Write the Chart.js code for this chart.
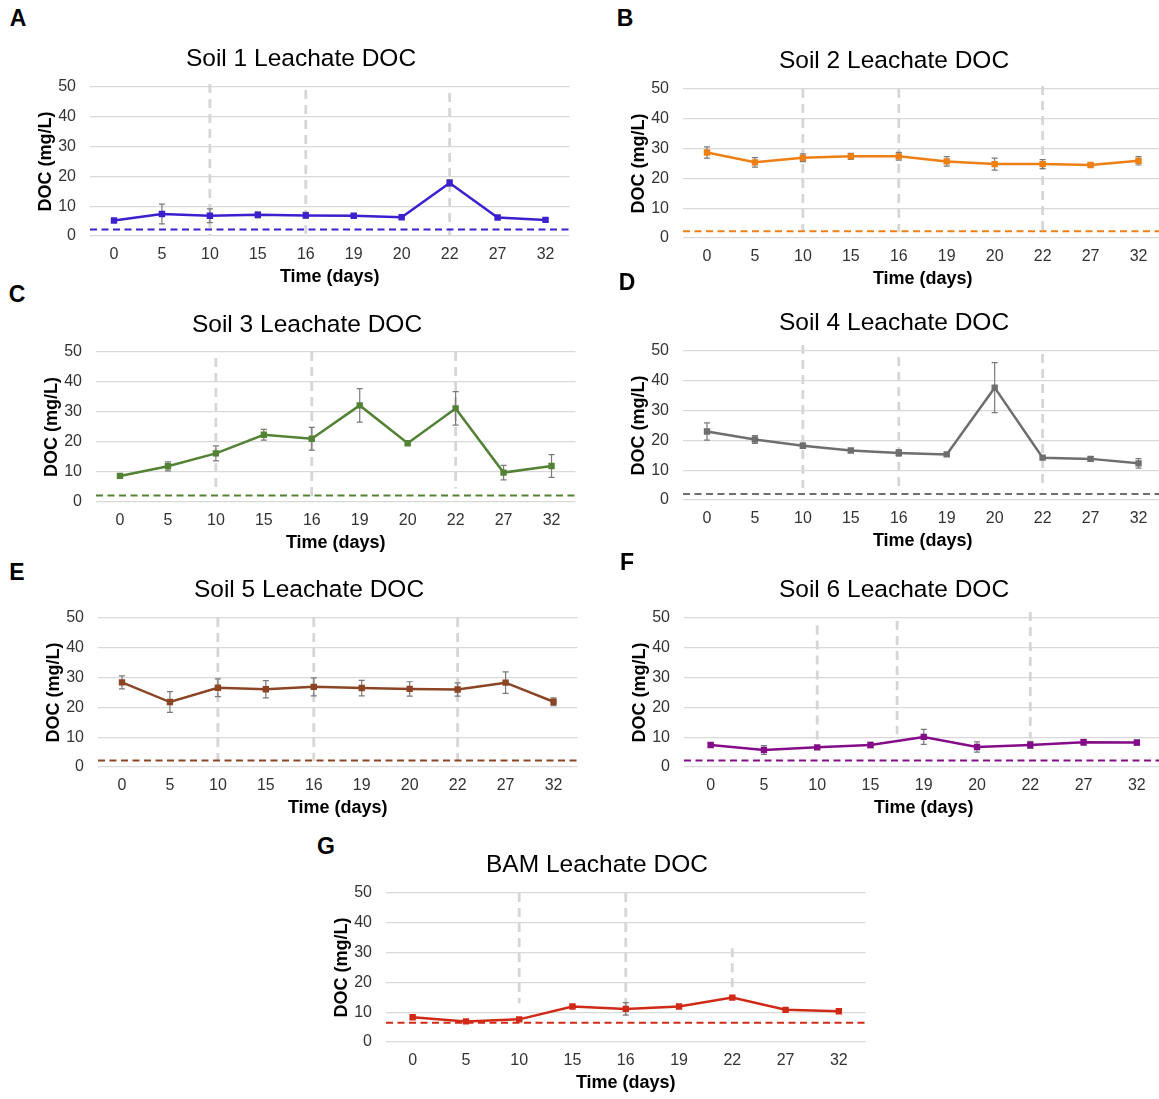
<!DOCTYPE html>
<html><head><meta charset="utf-8">
<script src="https://cdn.jsdelivr.net/npm/chart.js@4.4.1/dist/chart.umd.min.js"></script>
<style>
html,body{margin:0;padding:0;background:#fff;overflow:hidden;width:1159px;height:1099px;position:relative;}
canvas{position:absolute;}
.t{position:absolute;font-family:"Liberation Sans",Arial,sans-serif;font-size:24.5px;line-height:1;color:#000;transform:translate(-50%,-50%);white-space:nowrap;}
.l{position:absolute;font-family:"Liberation Sans",Arial,sans-serif;font-weight:bold;font-size:23px;line-height:1;color:#000;transform:translate(-50%,-50%);}
</style></head><body>
<script>
// ---- categories (days) ----
const days10 = ['0','5','10','15','16','19','20','22','27','32'];
const daysSoil6 = ['0','5','10','15','19','20','22','27','32'];
const daysBAM = ['0','5','10','15','16','19','22','27','32'];
const yTicks = [0,10,20,30,40,50];

// ---- series values (mg/L) and error bars ----
const soil1 = [5.2, 7.4, 6.8, 7.1, 6.9, 6.8, 6.3, 17.8, 6.2, 5.4];
const soil1Err = [0.3, 3.3, 2.3, 1.0, 1.0, 0.5, 0.4, 1.1, 0.5, 0.5];
const soil2 = [28.7, 25.4, 26.9, 27.4, 27.4, 25.7, 24.8, 24.8, 24.5, 25.9];
const soil2Err = [1.9, 1.6, 1.3, 1.0, 1.3, 1.6, 2.0, 1.5, 0.5, 1.4];
const soil3 = [8.7, 11.9, 16.2, 22.4, 21.1, 32.2, 19.6, 31.2, 9.8, 12.0];
const soil3Err = [0.5, 1.5, 2.5, 1.8, 3.8, 5.6, 0.7, 5.6, 2.4, 3.8];
const soil4 = [23.0, 20.3, 18.2, 16.6, 15.8, 15.3, 37.7, 14.2, 13.8, 12.3];
const soil4Err = [2.9, 1.3, 0.8, 0.6, 1.1, 0.5, 8.4, 0.5, 0.8, 1.6];
const soil5 = [28.4, 21.8, 26.6, 26.1, 26.9, 26.5, 26.2, 26.0, 28.3, 21.9];
const soil5Err = [2.2, 3.5, 3.0, 2.9, 3.0, 2.6, 2.4, 2.2, 3.6, 1.3];
const soil6 = [7.4, 5.7, 6.6, 7.4, 10.1, 6.7, 7.4, 8.3, 8.2];
const soil6Err = [0.5, 1.5, 0.5, 0.9, 2.5, 1.7, 1.2, 1.0, 0.9];
const bam = [8.3, 6.9, 7.6, 11.9, 11.1, 11.9, 14.9, 10.8, 10.3];
const bamErr = [0.4, 0.4, 0.4, 0.4, 2.1, 0.4, 0.4, 0.4, 0.4];

// ---- reference (dashed) levels ----
const thresholds = [2.2, 2.3, 2.2, 2.0, 2.2, 2.2, 6.5];

// ---- vertical event markers: [category index, top value, bottom value] ----
const marks1 = [[2,51,0],[4,49,0],[7,48,0]];
const marks2 = [[2,50,2],[4,50,2],[7,51,2]];
const marks3 = [[2,48,3],[4,50,2],[7,50,4.5]];
const marks4 = [[2,52,4],[4,48,4],[7,49,3.5]];
const marks5 = [[2,50,2],[4,50,2],[7,50,2]];
const marks6 = [[2,47.5,9],[3.5,49,11],[6,52,9.5]];
const marksBAM = [[2,50,13],[4,50,9],[6,31.5,16.5]];

const titles = ['Soil 1 Leachate DOC','Soil 2 Leachate DOC','Soil 3 Leachate DOC','Soil 4 Leachate DOC','Soil 5 Leachate DOC','Soil 6 Leachate DOC','BAM Leachate DOC'];
const letters = ['A','B','C','D','E','F','G'];
const colors = ['#3b20cf','#ee7f15','#548235','#6e6e6e','#8b4424','#850c88','#d02a16'];

// ---- layout (pixel geometry only) ----
const layouts = [
  {L:90,  R:570,  T:87,  B:236, tx:301, ty:58,  lx:18,  ly:18},
  {L:683, R:1163, T:89,  B:238, tx:894, ty:60,  lx:625, ly:18},
  {L:96,  R:576,  T:352, B:502, tx:307, ty:324, lx:17,  ly:294},
  {L:683, R:1163, T:351, B:500, tx:894, ty:322, lx:627, ly:282},
  {L:98,  R:578,  T:618, B:767, tx:309, ty:589, lx:17,  ly:572},
  {L:684, R:1164, T:618, B:767, tx:894, ty:589, lx:627, ly:562},
  {L:386, R:866,  T:893, B:1042,tx:597, ty:864, lx:326, ly:846}
];

const panels = [
  {labels:days10, values:soil1, errors:soil1Err, marks:marks1},
  {labels:days10, values:soil2, errors:soil2Err, marks:marks2},
  {labels:days10, values:soil3, errors:soil3Err, marks:marks3},
  {labels:days10, values:soil4, errors:soil4Err, marks:marks4},
  {labels:days10, values:soil5, errors:soil5Err, marks:marks5},
  {labels:daysSoil6, values:soil6, errors:soil6Err, marks:marks6},
  {labels:daysBAM, values:bam, errors:bamErr, marks:marksBAM}
];

const FONT = '"Liberation Sans", Arial, sans-serif';

function overlay(p, color, thr) {
  return {
    id: 'overlay',
    beforeDatasetsDraw(chart) {
      const {ctx, chartArea, scales:{x, y}} = chart;
      ctx.save();
      // vertical event markers
      ctx.strokeStyle = '#d6d6d6';
      ctx.lineWidth = 2.8;
      ctx.setLineDash([9, 6]);
      p.marks.forEach(m => {
        const px = x.getPixelForValue(m[0]);
        ctx.beginPath();
        ctx.moveTo(px, y.getPixelForValue(m[1]));
        ctx.lineTo(px, y.getPixelForValue(m[2]));
        ctx.stroke();
      });
      // threshold line
      ctx.strokeStyle = color;
      ctx.lineWidth = 2;
      ctx.setLineDash([7, 4.5]);
      const ty = y.getPixelForValue(thr);
      ctx.beginPath();
      ctx.moveTo(chartArea.left, ty);
      ctx.lineTo(chartArea.right, ty);
      ctx.stroke();
      // error bars
      ctx.setLineDash([]);
      ctx.strokeStyle = '#7a7a7a';
      ctx.lineWidth = 1.2;
      p.values.forEach((v, i) => {
        const e = p.errors[i];
        const px = x.getPixelForValue(i);
        const y1 = y.getPixelForValue(v + e), y2 = y.getPixelForValue(v - e);
        ctx.beginPath();
        ctx.moveTo(px, y1); ctx.lineTo(px, y2);
        ctx.moveTo(px - 3, y1); ctx.lineTo(px + 3, y1);
        ctx.moveTo(px - 3, y2); ctx.lineTo(px + 3, y2);
        ctx.stroke();
      });
      ctx.restore();
    }
  };
}

function makePanel(k) {
  const p = panels[k], g = layouts[k], color = colors[k];
  const yw = 60, padTop = 28, padRight = 4, xh = 56;
  const w = yw + (g.R - g.L) + padRight;
  const h = padTop + (g.B - g.T) + xh;
  const c = document.createElement('canvas');
  c.width = w; c.height = h;
  c.style.left = (g.L - yw) + 'px';
  c.style.top = (g.T - padTop) + 'px';
  c.style.width = w + 'px'; c.style.height = h + 'px';
  document.body.appendChild(c);

  const t = document.createElement('div');
  t.className = 't'; t.textContent = titles[k];
  t.style.left = g.tx + 'px'; t.style.top = g.ty + 'px';
  document.body.appendChild(t);
  const l = document.createElement('div');
  l.className = 'l'; l.textContent = letters[k];
  l.style.left = g.lx + 'px'; l.style.top = g.ly + 'px';
  document.body.appendChild(l);

  new Chart(c, {
    type: 'line',
    data: {
      labels: p.labels,
      datasets: [{
        data: p.values,
        borderColor: color,
        backgroundColor: color,
        pointBackgroundColor: color,
        borderWidth: 2.5,
        pointStyle: 'rect',
        pointRadius: 4.5,
        pointBorderWidth: 0,
        tension: 0,
        fill: false
      }]
    },
    options: {
      responsive: false,
      animation: false,
      devicePixelRatio: 1,
      layout: {padding: {top: padTop, right: padRight, left: 0, bottom: 0}},
      plugins: {legend: {display: false}, tooltip: {enabled: false}, title: {display: false}},
      scales: {
        x: {
          type: 'category',
          offset: true,
          grid: {display: false, drawTicks: false},
          border: {display: false},
          ticks: {color: '#333', font: {family: FONT, size: 16}, padding: 9, maxRotation: 0, autoSkip: false},
          title: {display: true, text: 'Time (days)', color: '#000', font: {family: FONT, size: 18, weight: 'bold'}, padding: {top: 0, bottom: 4}},
          afterFit(s) { s.height = xh; }
        },
        y: {
          min: 0, max: 50,
          afterBuildTicks(s) { s.ticks = yTicks.map(v => ({value: v})); },
          grid: {color: '#d9d9d9', lineWidth: 1.3, drawTicks: false},
          border: {display: false},
          ticks: {color: '#333', font: {family: FONT, size: 16}, padding: 14},
          title: {display: true, text: 'DOC (mg/L)', color: '#000', font: {family: FONT, size: 18, weight: 'bold'}, padding: {top: 5, bottom: 0}},
          afterFit(s) { s.width = yw; }
        }
      }
    },
    plugins: [overlay(p, color, thresholds[k])]
  });
}

for (let k = 0; k < panels.length; k++) makePanel(k);
</script>
</body></html>
